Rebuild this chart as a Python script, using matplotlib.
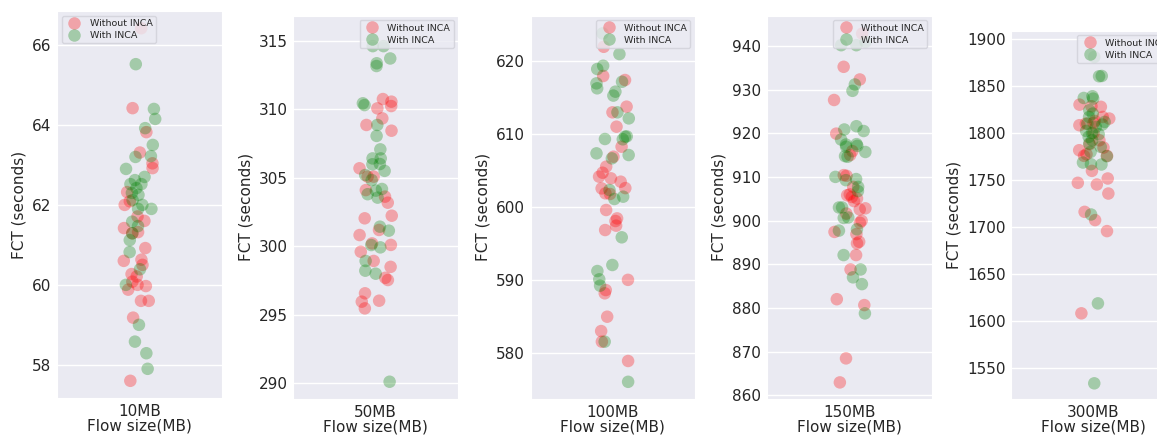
import numpy as np
import pandas as pd
import matplotlib
matplotlib.use("Agg")
import matplotlib.pyplot as plt
import seaborn as sns

sizes = ["10MB", "50MB", "100MB", "150MB", "300MB"]
series_names = ["Without INCA", "With INCA"]

without_10 = [66.42, 63.82, 64.42, 63.31, 63.04, 62.92, 62.32, 62.09, 62.0, 61.71,
              61.42, 61.32, 61.6, 61.29, 60.92, 60.5, 60.6, 60.63, 60.27, 60.21,
              60.08, 59.97, 60.0, 59.88, 59.6, 59.6, 59.18, 57.6]
with_10 = [65.52, 64.4, 64.15, 63.92, 63.5, 63.22, 63.2, 62.9, 62.7, 62.52,
           62.62, 62.52, 62.42, 62.25, 62.3, 62.12, 61.9, 61.9, 62.0, 61.29,
           61.58, 61.47, 61.12, 60.82, 60.39, 60.0, 59.0, 58.58, 58.29, 57.9]

without_50 = [310.23, 310.06, 310.55, 310.74, 309.33, 308.85, 308.43, 305.69, 305.08, 305.08,
              303.62, 304.1, 303.18, 302.23, 302.04, 301.19, 300.82, 300.21, 299.6, 300.1,
              298.93, 298.5, 297.7, 297.54, 296.57, 295.96, 296.03, 295.47]
with_50 = [314.6, 314.6, 313.35, 313.7, 313.15, 310.43, 310.3, 308.85, 308.05, 307.07,
           306.41, 306.41, 305.98, 306.0, 305.5, 305.2, 304.83, 304.06, 304.18, 303.8,
           303.55, 301.43, 301.14, 300.09, 299.92, 298.93, 298.0, 298.22, 290.12]

without_100 = [622.0, 617.44, 617.99, 613.78, 613.0, 611.03, 608.28, 606.91, 605.54, 604.71,
               604.17, 603.48, 603.94, 602.56, 602.6, 601.88, 601.79, 599.59, 598.44, 598.08,
               597.44, 596.84, 588.6, 588.15, 584.94, 582.97, 581.51, 578.86, 590.0]
with_100 = [623.84, 618.95, 619.4, 621.0, 617.2, 616.3, 615.84, 616.98, 615.3, 613.0,
            612.17, 609.34, 609.3, 609.66, 609.7, 607.37, 606.68, 607.14, 602.33, 601.42,
            601.1, 595.84, 592.04, 591.21, 590.07, 589.2, 581.51, 576.0]

without_150 = [942.8, 935.2, 932.3, 927.6, 919.9, 915.9, 915.0, 910.25, 910.4, 907.7,
               905.8, 905.05, 906.0, 905.4, 904.45, 902.8, 902.55, 901.6, 899.95, 899.5,
               897.4, 896.9, 895.15, 894.77, 892.1, 888.8, 882.0, 880.65, 868.45, 862.95]
with_150 = [940.15, 940.9, 940.15, 931.15, 929.7, 921.6, 920.5, 920.85, 918.55, 917.4,
            917.1, 917.5, 916.9, 915.7, 914.6, 914.75, 909.5, 910.0, 909.25, 907.7,
            906.75, 903.0, 903.0, 900.7, 900.6, 898.0, 897.7, 892.1, 888.8, 887.0,
            885.45, 878.75]

without_300 = [1829.8, 1816.7, 1828.1, 1827.5, 1815.0, 1812.5, 1810.3, 1807.9, 1809.6, 1799.7,
               1791.9, 1784.1, 1787.7, 1781.3, 1777.0, 1775.3, 1775.3, 1759.3, 1751.2, 1746.6,
               1744.8, 1735.2, 1715.7, 1706.9, 1695.2, 1607.7]
with_300 = [1880.5, 1860.3, 1860.0, 1838.7, 1836.9, 1836.2, 1823.8, 1820.3, 1816.7, 1811.4,
            1808.6, 1809.5, 1806.1, 1801.8, 1799.7, 1795.5, 1798.3, 1788.4, 1791.9, 1784.8,
            1779.5, 1774.9, 1768.2, 1766.1, 1766.4, 1712.9, 1618.3, 1533.2]

without_all = [without_10, without_50, without_100, without_150, without_300]
with_all = [with_10, with_50, with_100, with_150, with_300]

y_limits = [(57.17, 66.85), (288.86, 316.82), (573.64, 626.27), (859.15, 946.9), (1516.2, 1908.5)]
y_ticks = [np.arange(58, 67, 2), np.arange(290, 316, 5), np.arange(580, 621, 10),
           np.arange(860, 941, 10), np.arange(1550, 1901, 50)]
legend_locs = ["upper left", "upper right", "upper right", "upper right", "upper right"]

sns.set_style("darkgrid")
plt.rcParams["font.family"] = ["DejaVu Sans"]

W, H = 1157, 436
fig = plt.figure(figsize=(W / 100, H / 100), dpi=100)

# axes boxes in pixels: left, top, right, bottom
boxes = [(57, 11, 222, 398), (293.3, 15.7, 458.3, 399), (530.7, 15.7, 695, 399),
         (766.7, 15.7, 931.7, 399), (1011, 30.7, 1176, 399.3)]

palette = {"Without INCA": "red", "With INCA": "green"}

for i, size in enumerate(sizes):
    l, t, r, b = boxes[i]
    ax = fig.add_axes([l / W, (H - b) / H, (r - l) / W, (b - t) / H])
    df = pd.DataFrame({
        "size": [size] * (len(without_all[i]) + len(with_all[i])),
        "fct": list(without_all[i]) + list(with_all[i]),
        "type": [series_names[0]] * len(without_all[i]) + [series_names[1]] * len(with_all[i]),
    })
    np.random.seed(i + 3)
    sns.stripplot(data=df, x="size", y="fct", hue="type", hue_order=series_names,
                  palette=palette, alpha=0.3, size=9, jitter=True, dodge=False,
                  linewidth=0, ax=ax)
    ax.set_ylim(*y_limits[i])
    ax.set_yticks(y_ticks[i])
    ax.set_xlim(-0.5, 0.5)
    ax.grid(axis="x", visible=False)
    ax.grid(axis="y", color="white", linewidth=1.0)
    ax.set_facecolor("#eaeaf2")
    ax.tick_params(axis="both", labelsize=11, length=0, colors="#262626", pad=4)
    ax.set_xlabel("Flow size(MB)", fontsize=11, color="#262626", labelpad=0)
    ax.set_ylabel("FCT (seconds)", fontsize=11, color="#262626")
    leg = ax.legend(loc=legend_locs[i], fontsize=6.8, markerscale=1.0, frameon=True,
                    borderpad=0.35, handletextpad=0.6, labelspacing=0.3)
    leg.get_frame().set_facecolor("#eaeaf2")
    leg.get_frame().set_edgecolor("#d0d0d8")
    for h in leg.legend_handles:
        h.set_alpha(0.3)

fig.savefig("out.png", dpi=100)
